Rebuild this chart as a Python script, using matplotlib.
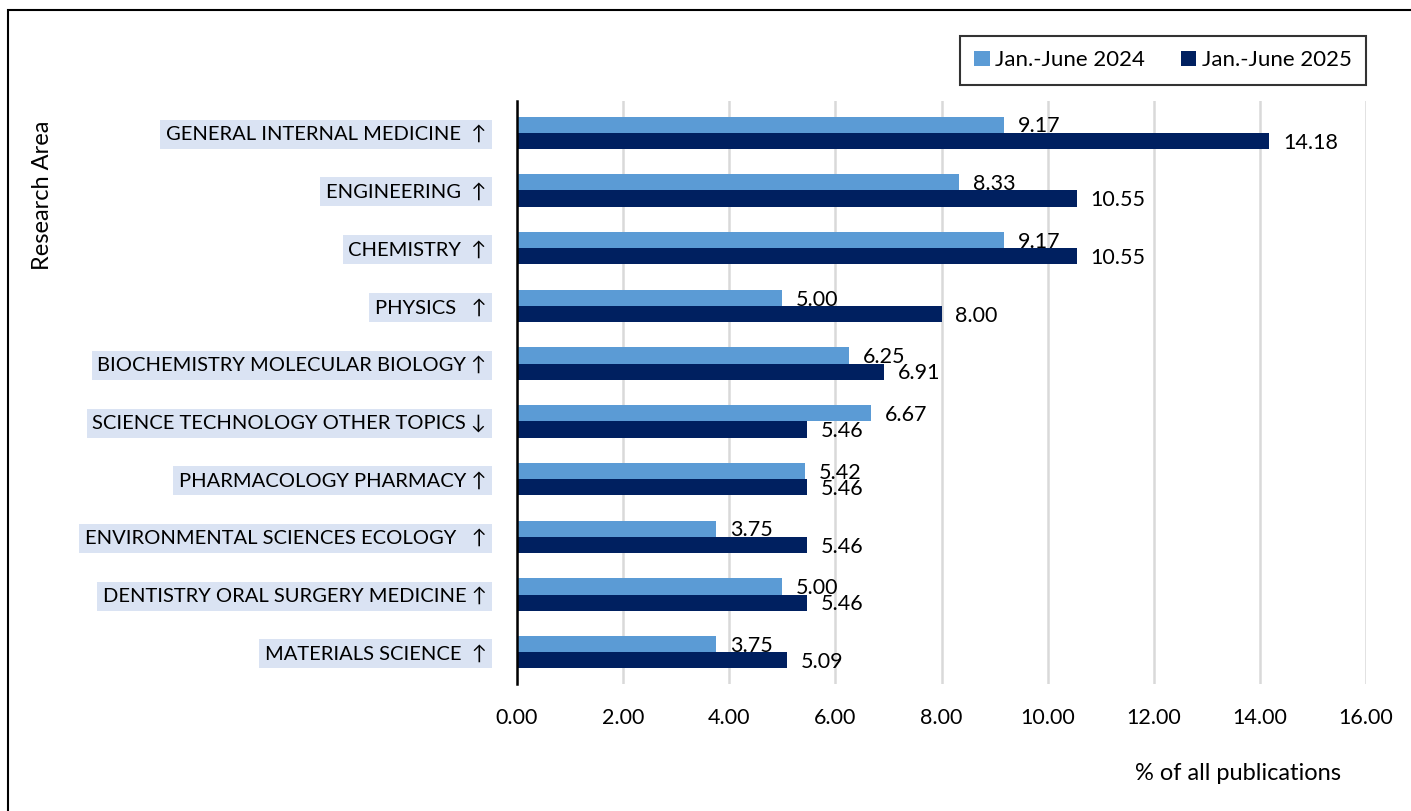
import matplotlib
matplotlib.use("Agg")
import matplotlib.pyplot as plt
from matplotlib.patches import Rectangle, Patch

plt.rcParams['font.family'] = ['Lato', 'DejaVu Sans']

areas = [
    "GENERAL INTERNAL MEDICINE  \u2191",
    "ENGINEERING  \u2191",
    "CHEMISTRY  \u2191",
    "PHYSICS   \u2191",
    "BIOCHEMISTRY MOLECULAR BIOLOGY \u2191",
    "SCIENCE TECHNOLOGY OTHER TOPICS \u2193",
    "PHARMACOLOGY PHARMACY \u2191",
    "ENVIRONMENTAL SCIENCES ECOLOGY   \u2191",
    "DENTISTRY ORAL SURGERY MEDICINE \u2191",
    "MATERIALS SCIENCE  \u2191",
]
pct_2024 = [9.17, 8.33, 9.17, 5.00, 6.25, 6.67, 5.42, 3.75, 5.00, 3.75]
pct_2025 = [14.18, 10.55, 10.55, 8.00, 6.91, 5.46, 5.46, 5.46, 5.46, 5.09]
series_names = ["Jan.-June 2024", "Jan.-June 2025"]
x_ticks = [0, 2, 4, 6, 8, 10, 12, 14, 16]

c24 = '#5b9bd5'
c25 = '#002060'
fs = 14.5      # category labels
fs_num = 15.5  # ticks and data labels

W, H = 1411, 811
fig = plt.figure(figsize=(W / 100, H / 100), dpi=100)
ax = fig.add_axes([517 / W, 1 - 684 / H, (1366 - 517) / W, (684 - 101) / H])

# outer frame (cut off at right/bottom like the source)
fig.patches.append(Rectangle((8 / W, -0.1), 1.2, 1 - 10 / H + 0.1,
                             transform=fig.transFigure, fill=False,
                             edgecolor='black', lw=1.5))

h = 0.28
ys = list(range(len(areas)))
ax.barh([y - h / 2 for y in ys], pct_2024, height=h, color=c24, zorder=3)
ax.barh([y + h / 2 for y in ys], pct_2025, height=h, color=c25, zorder=3)

for y, v in zip(ys, pct_2024):
    ax.annotate(f"{v:.2f}", (v, y - h / 2 + 0.03), xytext=(10, 0),
                textcoords='offset points', va='center', ha='left', fontsize=fs_num, zorder=4)
for y, v in zip(ys, pct_2025):
    ax.annotate(f"{v:.2f}", (v, y + h / 2 + 0.03), xytext=(10, 0),
                textcoords='offset points', va='center', ha='left', fontsize=fs_num, zorder=4)

ax.set_xlim(0, 16)
ax.set_ylim(len(areas) - 0.45, -0.55)
ax.set_xticks(x_ticks)
ax.set_xticklabels([f"{t:.2f}" for t in x_ticks], fontsize=fs_num)
ax.set_yticks(ys)
ax.set_yticklabels(areas, fontsize=fs)
for lbl in ax.get_yticklabels():
    lbl.set_bbox(dict(facecolor='#dae3f3', edgecolor='none', pad=4))
ax.tick_params(axis='both', length=0)
ax.tick_params(axis='x', pad=17)
ax.tick_params(axis='y', pad=22)

ax.grid(axis='x', color='#d9d9d9', lw=1.8, zorder=0)
for s in ['top', 'right', 'bottom']:
    ax.spines[s].set_visible(False)
ax.spines['left'].set_linewidth(1.8)
ax.spines['left'].set_zorder(5)

fig.text(43 / W, 1 - 195 / H, "Research Area", rotation=90, ha='center', va='center', fontsize=17)
fig.text(1238 / W, 1 - 774 / H, "% of all publications", ha='center', va='center', fontsize=17)

handles = [Patch(facecolor=c24), Patch(facecolor=c25)]
leg = fig.legend(handles, series_names, loc='upper right', bbox_to_anchor=(1366 / W, 1 - 36 / H),
                 ncol=2, fontsize=16, frameon=True, fancybox=False, edgecolor='black',
                 handlelength=0.7, handleheight=0.7, handletextpad=0.25, columnspacing=1.6,
                 borderpad=0.65, borderaxespad=0)
leg.get_frame().set_linewidth(1.5)

fig.savefig("out.png", dpi=100)
